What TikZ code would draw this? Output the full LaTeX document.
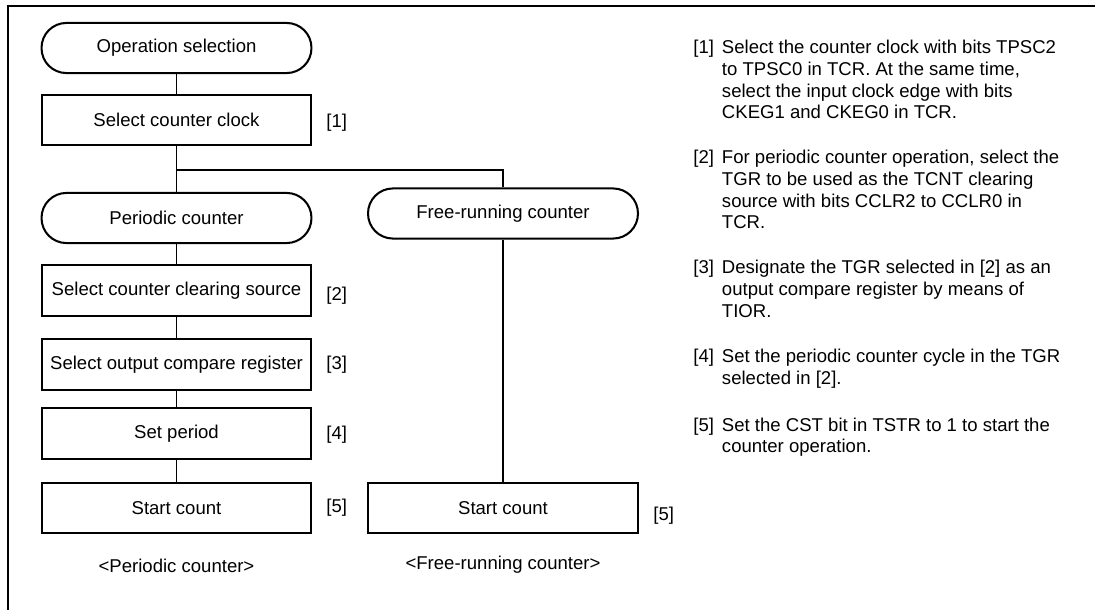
\documentclass[tikz,border=0pt]{standalone}
\usepackage{fontspec}
\setmainfont{Liberation Sans}
\usetikzlibrary{positioning}

\begin{document}
\begin{tikzpicture}[x=0.539pt, y=-0.539pt,
    terminal/.style={draw, line width=1.1pt, rounded corners=13.4pt, minimum width=145.5pt, minimum height=27pt, inner sep=0pt},
    procbox/.style={draw, line width=1.1pt, minimum width=145.5pt, minimum height=27pt, inner sep=0pt},
    numlabel/.style={anchor=west, inner sep=0pt},
    link/.style={line width=0.6pt},
    note/.style={anchor=base west, inner sep=0pt, font=\fontsize{10}{11.6}\selectfont}]
    \useasboundingbox (0,0) rectangle (1095,610);

    % frame
    \draw[line width=1.4pt] (8,610) -- (8,6) -- (1095,6);

    % common part
    \node[terminal] (opsel) at (176.5,48) {Operation selection};
    \node[procbox] (clock) at (176.5,120) {Select counter clock};
    \node[numlabel] (lab1) at (326,123) {[1]};

    % periodic counter
    \node[terminal] (percnt) at (176.5,218) {Periodic counter};
    \node[procbox] (clrsrc) at (176.5,290.5) {Select counter clearing source};
    \node[procbox] (ocreg) at (176.5,364.5) {Select output compare register};
    \node[procbox] (period) at (176.5,433.5) {Set period};
    \node[procbox] (startp) at (176.5,508) {Start count};
    \node[numlabel] (lab2) at (326,296) {[2]};
    \node[numlabel] (lab3) at (326,365) {[3]};
    \node[numlabel] (lab4) at (326,435) {[4]};
    \node[numlabel] (lab5p) at (326,508) {[5]};
    \node (capp) at (176.5,566) {<Periodic counter>};

    % free-running counter
    \node[terminal] (freecnt) at (503,213.5) {Free-running counter};
    \node[procbox] (startf) at (503,508) {Start count};
    \node[numlabel] (lab5f) at (653,516) {[5]};
    \node (capf) at (503,565) {<Free-running counter>};

    % connectors
    \coordinate (fork) at (176.5,170);
    \draw[link] (opsel) -- (clock);
    \draw[link] (clock) -- (percnt);
    \draw[link] (fork) -| (freecnt);
    \draw[link] (percnt) -- (clrsrc);
    \draw[link] (clrsrc) -- (ocreg);
    \draw[link] (ocreg) -- (period);
    \draw[link] (period) -- (startp);
    \draw[link] (freecnt) -- (startf);

    % notes
    \node[note] (note1) at (693,54) {\begin{tabular}[t]{@{}l@{\hspace{4.3pt}}l@{}}
        [1] & Select the counter clock with bits TPSC2\\
            & to TPSC0 in TCR. At the same time,\\
            & select the input clock edge with bits\\
            & CKEG1 and CKEG0 in TCR.\end{tabular}};
    \node[note] (note2) at (693,164) {\begin{tabular}[t]{@{}l@{\hspace{4.3pt}}l@{}}
        [2] & For periodic counter operation, select the\\
            & TGR to be used as the TCNT clearing\\
            & source with bits CCLR2 to CCLR0 in\\
            & TCR.\end{tabular}};
    \node[note] (note3) at (693,274) {\begin{tabular}[t]{@{}l@{\hspace{4.3pt}}l@{}}
        [3] & Designate the TGR selected in [2] as an\\
            & output compare register by means of\\
            & TIOR.\end{tabular}};
    \node[note] (note4) at (693,363) {\begin{tabular}[t]{@{}l@{\hspace{4.3pt}}l@{}}
        [4] & Set the periodic counter cycle in the TGR\\
            & selected in [2].\end{tabular}};
    \node[note] (note5) at (693,431) {\begin{tabular}[t]{@{}l@{\hspace{4.3pt}}l@{}}
        [5] & Set the CST bit in TSTR to 1 to start the\\
            & counter operation.\end{tabular}};
\end{tikzpicture}
\end{document}
